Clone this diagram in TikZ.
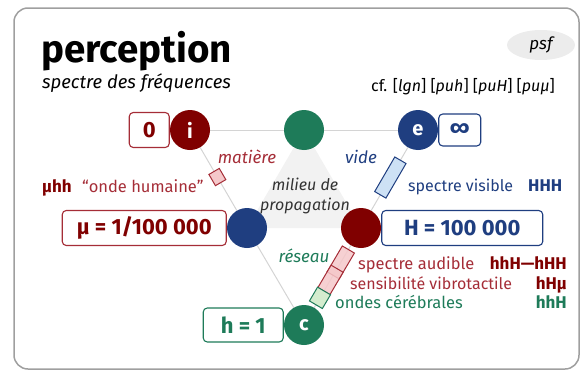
\documentclass[tikz,border=0pt]{standalone}
\usepackage{fontspec}
\setmainfont{Fira Sans}
\usetikzlibrary{shapes.geometric}
\definecolor{cred}{RGB}{128,0,0}
\definecolor{tred}{RGB}{165,45,55}
\definecolor{cblue}{RGB}{31,62,128}
\definecolor{cgreen}{RGB}{30,123,89}
\definecolor{lblue}{RGB}{205,225,245}
\definecolor{lpink}{RGB}{245,200,202}
\definecolor{lgreen}{RGB}{212,236,206}
\definecolor{lgray}{RGB}{212,212,212}
\definecolor{trifill}{RGB}{242,242,242}
\definecolor{psfgray}{RGB}{236,236,236}
\pgfdeclarelayer{bg}
\pgfsetlayers{bg,main}
\newcommand{\fsz}[1]{\fontsize{#1}{#1}\selectfont}
\begin{document}
\begin{tikzpicture}[x=1pt,y=-1pt,
  dot/.style={circle,minimum size=40pt,inner sep=0pt,text=white,font=\bfseries\fsz{20}},
  vbox/.style={draw,rounded corners=4pt,line width=1.1pt,fill=white,inner sep=0pt,minimum height=35pt,font=\bfseries\fsz{22}},
  edgeline/.style={draw=lgray,line width=1pt},
  band/.style={sloped,inner sep=0pt,line width=1pt},
  lab/.style={inner sep=0pt,font=\fsz{16.5}},
  ilab/.style={inner sep=0pt,font=\itshape\fsz{17}},
  blab/.style={inner sep=0pt,font=\bfseries\fsz{17}}]
\useasboundingbox (0,0) rectangle (583,372);
\draw[gray!75,line width=1.5pt,rounded corners=14pt] (14,8) rectangle (579,369);
% title
\node[anchor=base west,inner sep=0pt,font=\bfseries\fsz{38.5}] (title) at (41,62) {perception};
\node[anchor=base west,inner sep=0pt,font=\itshape\fsz{18.5}] (sub) at (42,88) {spectre des fréquences};
\node[ellipse,fill=psfgray,minimum width=68pt,minimum height=30pt,inner sep=0pt,font=\itshape\fsz{17}] (psf) at (541,45) {psf};
\node[anchor=base east,inner sep=0pt,font=\fsz{16}] (cf) at (555,91) {cf. [\textit{lgn}] [\textit{puh}] [\textit{puH}] [\textit{puμ}]};
% circles
\node[dot,fill=cred] (i) at (190,130) {i};
\node[dot,fill=cgreen] (m) at (304,130) {};
\node[dot,fill=cblue] (e) at (418,130) {e};
\node[dot,fill=cblue] (l) at (247,228) {};
\node[dot,fill=cred] (r) at (361,228) {};
\node[dot,fill=cgreen] (c) at (304,325) {c};
\begin{pgfonlayer}{bg}
\fill[trifill] (m.center) -- (l.center) -- (r.center) -- cycle;
\draw[edgeline] (i.center) -- (m.center);
\draw[edgeline] (m.center) -- (e.center);
\draw[edgeline] (i.center) -- (l.center);
\draw[edgeline] (l.center) -- (c.center);
\draw[edgeline] (e.center) -- (r.center);
\draw[edgeline] (r.center) -- (c.center);
\end{pgfonlayer}
% value boxes
\node[vbox,draw=tred,text=cred,minimum width=40pt,anchor=east] (zero) at (i.west) {0};
\node[vbox,draw=cblue,text=cblue,minimum width=42pt,minimum height=32pt,anchor=west] (inf) at (e.east) {∞};
\node[vbox,draw=tred,text=cred,minimum width=164pt,anchor=east] (mu) at (l.west) {μ = 1/100 000};
\node[vbox,draw=cblue,text=cblue,minimum width=161pt,anchor=west] (H) at (r.east) {H = 100 000};
\node[vbox,draw=cgreen,text=cgreen,minimum width=80pt,minimum height=34pt,anchor=east] (h) at (c.west) {h = 1};
% bands on the edges
\path (i.center) -- (l.center) node[band,pos=0.48,draw=tred,fill=lpink,minimum width=13pt,minimum height=12pt] (bd) {};
\path (e.center) -- (r.center) node[band,pos=0.485,draw=cblue,fill=lblue,minimum width=40pt,minimum height=13pt] (bv) {};
\path (r.center) -- (c.center) node[band,pos=0.355,draw=tred,fill=lpink,fill opacity=0.85,minimum width=30pt,minimum height=14pt] (ba) {};
\path (r.center) -- (c.center) node[band,pos=0.535,draw=tred,fill=lpink,fill opacity=0.85,minimum width=26pt,minimum height=14pt] (bt) {};
\path (r.center) -- (c.center) node[band,pos=0.72,draw=cgreen,fill=lgreen,minimum width=16pt,minimum height=15pt] (bc) {};
% edge labels
\node[ilab,text=tred,anchor=base] (mat) at (247,163) {matière};
\node[ilab,text=cblue,anchor=base] (vide) at (361,163) {vide};
\node[ilab,text=cgreen,anchor=base] (res) at (304,262) {réseau};
\node[ilab,text=black!80,anchor=base,font=\itshape\fsz{16}] (mil1) at (305,190) {milieu de};
\node[ilab,text=black!80,anchor=base,font=\itshape\fsz{16}] (mil2) at (305,210) {propagation};
% range labels
\node[blab,text=cred,anchor=base west] (muhh) at (42,192) {μhh};
\node[lab,text=tred,anchor=base west] (onde) at (82,192) {“onde humaine”};
\node[lab,text=cblue,anchor=base west,font=\fsz{16}] (vis) at (408,191) {spectre visible};
\node[blab,text=cblue,anchor=base west] (HHH) at (528,191) {HHH};
\node[lab,text=tred,anchor=base west] (aud) at (358,269) {spectre audible};
\node[blab,text=cred,anchor=base east] (audr) at (567,269) {hhH—hHH};
\node[lab,text=tred,anchor=base west,font=\fsz{16}] (vib) at (350,289) {sensibilité vibrotactile};
\node[blab,text=cred,anchor=base east] (vibr) at (567,289) {hHμ};
\node[lab,text=cgreen,anchor=base west] (cer) at (335,308) {ondes cérébrales};
\node[blab,text=cgreen,anchor=base east] (cerr) at (567,308) {hhH};
\end{tikzpicture}
\end{document}
